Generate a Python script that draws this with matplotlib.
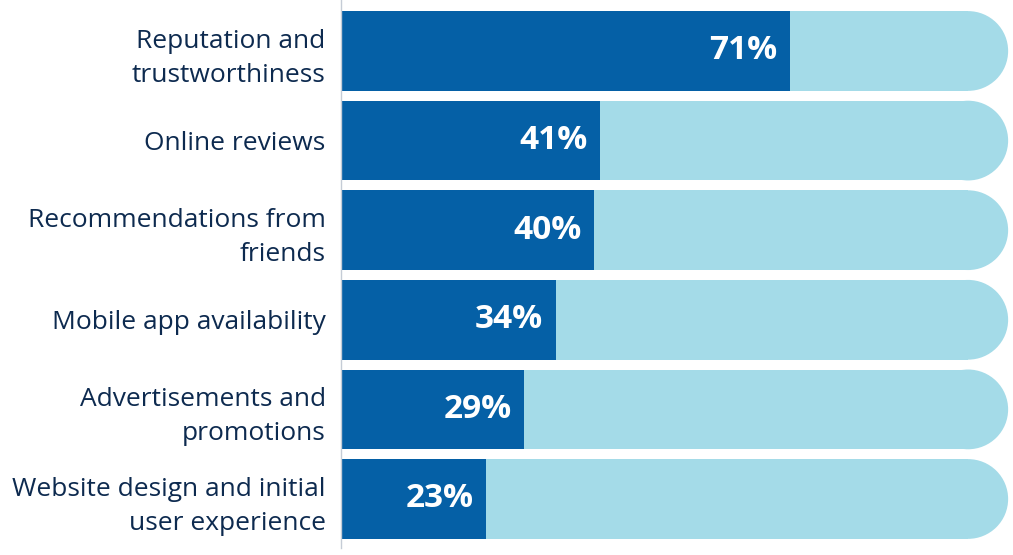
import numpy as np
import matplotlib.pyplot as plt
from matplotlib.patches import Ellipse

plt.rcParams['font.family'] = ['Open Sans', 'DejaVu Sans']

labels = ['Reputation and\ntrustworthiness', 'Online reviews',
          'Recommendations from\nfriends', 'Mobile app availability',
          'Advertisements and\npromotions', 'Website design and initial\nuser experience']
values = [71, 41, 40, 34, 29, 23]

dark = '#0560a6'
light = '#a4dbe8'
navy = '#0d2a4f'

fig = plt.figure(figsize=(10.13, 5.55), dpi=100)
ax = fig.add_axes([341 / 1013, 7 / 555, 672 / 1013, 548 / 555])

y = np.arange(len(values))
h = 0.89
cap = 6.33  # x-radius of rounded end in data units

ax.barh(y, 99.2, height=h, color=light, lw=0, zorder=1)
for yi in y:
    ax.add_patch(Ellipse((99.2, yi), 2 * cap, h, color=light, zorder=1, lw=0))
ax.barh(y, values, height=h, color=dark, lw=0, zorder=2)

for yi, v in zip(y, values):
    ax.text(v - 2, yi, f'{v}%', ha='right', va='center', color='white',
            fontsize=24, fontweight='bold', zorder=3)

ax.set_xlim(0, 106.3)
ax.set_ylim(5 + 0.547, -0.569)
ax.set_yticks(y)
ax.set_yticklabels(labels, fontsize=19, color=navy, linespacing=1.45)
ax.tick_params(axis='y', length=0, pad=11)
ax.set_xticks([])
for s in ['top', 'right', 'bottom']:
    ax.spines[s].set_visible(False)
ax.spines['left'].set_color('#c5ccd6')
ax.spines['left'].set_linestyle((0, (2, 1)))
ax.spines['left'].set_linewidth(1)

fig.savefig('out.png', dpi=100)
